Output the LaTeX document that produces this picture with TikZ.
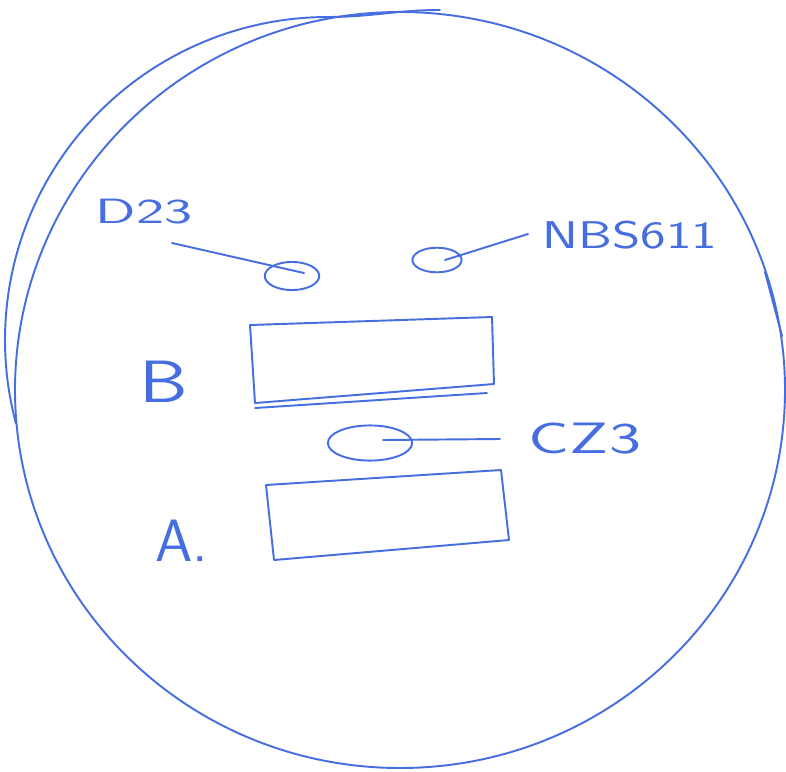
\documentclass[tikz,border=0pt]{standalone}
\usepackage{tikz}
\usetikzlibrary{shapes.geometric,positioning}
\definecolor{pen}{RGB}{70,110,225}

\begin{document}
\begin{tikzpicture}[x=0.02cm,y=-0.02cm,line width=1.1pt,
    pen stroke/.style={draw=pen,line cap=round,line join=round},
    spot/.style={ellipse,draw=pen,line width=1.1pt,inner sep=0pt},
    tag/.style={text=pen,inner sep=0pt}]
  \useasboundingbox (0,0) rectangle (786,771);
  % the dish, with the second stroke round its upper left and the flick on the right
  \draw[pen stroke] (400,390) ellipse [x radius=385,y radius=378];
  \draw[pen stroke] (328,340) ++(165:323) arc [start angle=165,end angle=270,radius=323]
    to[out=0,in=180] (440,10);
  \draw[pen stroke] (765,272) -- (782,336);
  % spots
  \node[spot,minimum width=31pt,minimum height=16pt] (d23) at (292,276) {};
  \node[spot,minimum width=28pt,minimum height=14pt] (nbs) at (437,260) {};
  \node[spot,minimum width=48pt,minimum height=20pt] (cz3) at (370,443) {};
  % labels
  \node[tag,font=\sffamily\fontsize{20}{20}\selectfont,xscale=1.7] (d23lab) at (144,212) {D23};
  \node[tag,font=\sffamily\fontsize{22}{22}\selectfont,xscale=1.4] (nbslab) at (630,235) {NBS611};
  \node[tag,font=\sffamily\fontsize{25}{25}\selectfont,xscale=1.55] (cz3lab) at (585,439) {CZ3};
  \node[tag,font=\sffamily\fontsize{34}{34}\selectfont,xscale=1.3] (blab) at (164,382) {B};
  \node[tag,font=\sffamily\fontsize{34}{34}\selectfont] (alab) at (182,541) {A.};
  % leader lines
  \coordinate (d23end) at (172,243);
  \coordinate (nbsend) at (528,234);
  \coordinate (cz3end) at (500,439);
  \draw[pen stroke] (d23end) -- ([shift={(12,-3)}]d23.center);
  \draw[pen stroke] ([shift={(8,0)}]nbs.center) -- (nbsend);
  \draw[pen stroke] ([shift={(13,-3)}]cz3.center) -- (cz3end);
  % strips
  \draw[pen stroke] (250,325) -- (492,317) -- (494,384) -- (255,403) -- cycle;
  \draw[pen stroke] (255,408) -- (487,393);
  \draw[pen stroke] (266,485) -- (501,470) -- (509,540) -- (274,560) -- cycle;
\end{tikzpicture}
\end{document}
